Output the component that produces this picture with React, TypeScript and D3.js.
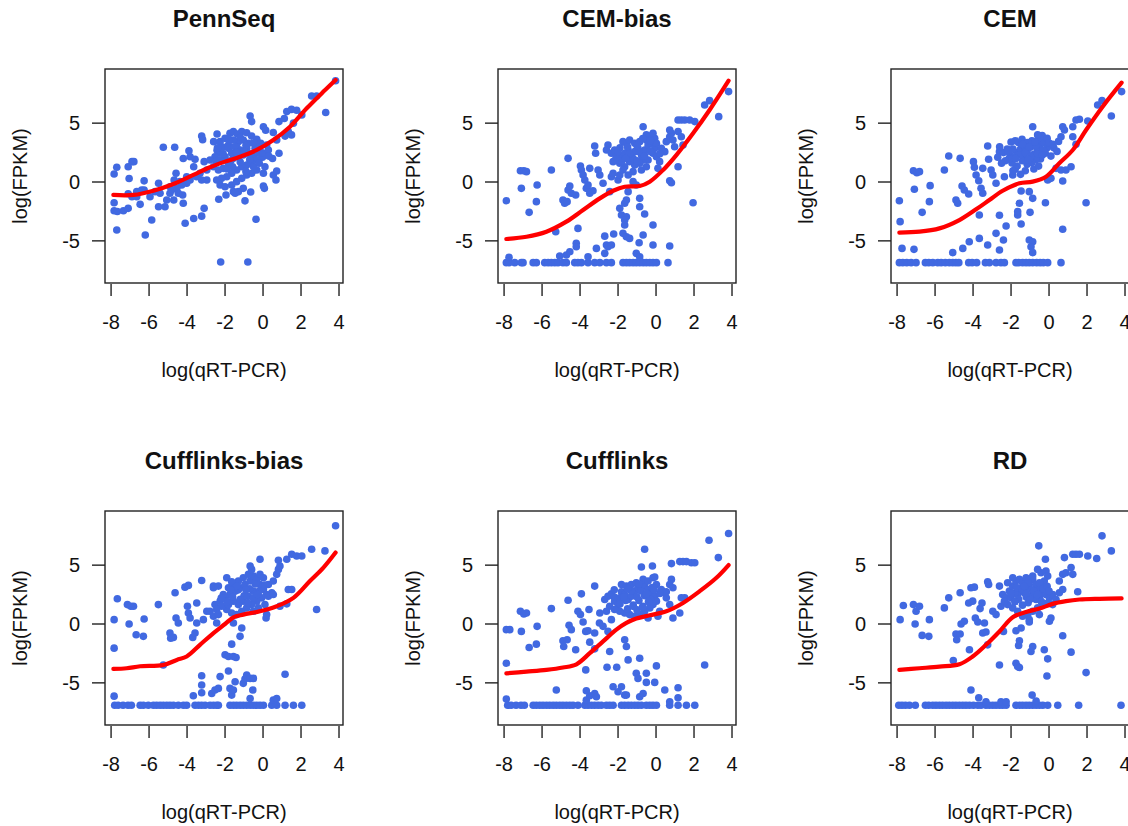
import React from 'react';
import * as d3 from 'd3';

// axis ticks shared by every panel
const xTicks = [-8, -6, -4, -2, 0, 2, 4];
const yTicks = [-5, 0, 5];
const xDomain = [-8.32, 4.21];
const yDomain = [-8.58, 9.6];

const titles = ['PennSeq', 'CEM-bias', 'CEM', 'Cufflinks-bias', 'Cufflinks', 'RD'];

// points: [log(qRT-PCR), log(FPKM)]
const pennSeqPts = [
  [-7.84,0.68],[-7.7,1.25],[-7.84,-1.76],[-7.84,-2.44],[-7.67,-2.5],[-7.7,-4.08],[-7.35,-2.44],[-7.1,-2.24],[-7.05,0.3],[-7.1,1.3],
  [-6.9,1.73],[-6.8,1.73],[-7.1,-1.0],[-6.9,-1.25],[-6.65,-1.25],[-6.47,-1.9],[-6.26,0.1],[-6.26,-0.68],[-6.2,-4.5],[-5.86,-3.23],
  [-5.5,-0.1],[-5.5,-2.1],[-5.25,2.95],[-5.16,-2.1],[-5.07,-1.53],[-4.9,-0.96],[-4.65,2.95],[-4.7,-1.53],[-4.58,0.74],[-4.68,0.17],
  [-4.2,2.0],[-3.9,2.66],[-3.84,2.15],[-3.58,1.93],[-4.23,-1.1],[-4.1,-3.5],[-4.2,-1.8],[-3.65,-3.1],[-3.23,-2.9],[-3.1,-2.24],
  [-3.65,1.3],[-3.23,3.9],[-3.18,3.6],[-3.5,0.45],[-3.1,1.73],[-2.96,0.17],[-2.6,3.43],[-2.42,4.08],[-2.42,2.7],[-2.33,-1.47],
  [-2.23,-6.8],[-1.95,-1.1],[-0.8,-6.8],[-0.95,-1.6],[-0.65,-0.85],[-0.37,-3.17],[0.02,-0.34],[0.07,-0.54],[0.1,1.3],[0.54,0.6],
  [0.72,0.93],[0.68,0.17],[0.84,2.44],[0.5,2.0],[0.54,4.2],[0.72,3.57],[0.84,5.13],[1.12,5.4],[1.25,5.98],[1.5,6.17],
  [1.77,6.1],[2.04,5.7],[1.16,3.9],[1.33,4.28],[1.5,4.0],[1.6,5.0],[2.56,7.3],[2.82,7.3],[3.3,5.9],[3.82,8.6],
  [-0.68,5.6],[-0.6,5.13],[0.02,4.7],[0.14,4.4],[-0.03,2.1],
  [-2.26,3.43],[-2.0,3.71],[-1.74,4.14],[-1.56,4.28],[-1.35,4.08],[-1.12,4.28],[-0.86,4.19],[-0.6,3.9],[-0.33,3.63],[-0.12,3.29],
  [-0.16,2.72],[-0.42,2.86],[-0.77,3.29],[-1.04,3.57],[-1.3,3.43],[-1.56,3.57],[-1.82,3.14],[-2.09,2.95],[-2.3,2.44],[-2.53,2.15],
  [-2.44,1.73],[-2.61,1.3],[-2.35,1.02],[-2.09,1.16],[-1.82,1.59],[-1.56,2.01],[-1.3,2.15],[-1.04,2.29],[-0.77,2.44],[-0.51,2.15],
  [-0.25,2.44],[0.02,2.44],[0.28,2.72],[0.19,3.14],[-0.33,1.87],[-0.6,1.59],[-0.86,1.44],[-1.12,1.3],[-1.39,1.02],[-1.65,0.74],
  [-1.91,0.45],[-2.18,0.31],[-2.44,0.17],[-2.26,-0.25],[-2.0,-0.4],[-1.65,-0.25],[-1.39,0.03],[-1.12,0.31],[-0.86,0.6],[-0.6,0.74],
  [-0.33,1.02],[0.02,0.74],[-1.04,-0.54],[-1.3,-0.82],[-1.56,-0.82],[-1.47,-0.96],[-1.82,2.86],[-1.21,2.72],[-0.86,2.86],[-1.39,3.0],
  [-1.65,2.44],[-2.0,2.15],[-2.26,1.87],[-2.79,1.87],[-2.96,1.02],[-3.32,0.74],[-3.23,0.17],[-3.84,0.17],[-4.02,-0.11],[-4.28,-0.25],
  [-4.54,-0.54],[-4.81,-0.68],[-4.9,-0.4],[-4.37,0.03],[-4.02,0.45],[-4.46,-0.96],[-5.42,-0.96],[-5.68,-0.82],[-5.95,-1.25],[-6.65,-0.82],
  [-6.39,-0.68],
  [-1.8,3.6],[-1.5,3.0],[-1.2,3.8],[-0.9,3.1],[-0.5,3.3],[-0.2,3.0],[-1.7,1.8],[-1.4,2.5],[-1.0,2.6],[-0.7,1.9],
  [-0.4,2.6],[-2.1,2.4],[-1.9,1.1],[-1.2,1.7],[-0.9,0.9],[-0.5,1.3],[-2.4,2.9],[-1.6,1.3],[-0.2,1.6],[0.3,2.2],
];

const cemBiasPts = [
  [-7.88,-6.85],[-7.74,-6.85],[-7.44,-6.85],[-7.09,-6.85],[-7.0,-6.85],[-6.47,-6.85],[-6.3,-6.85],[-5.86,-6.85],[-5.68,-6.85],[-5.51,-6.85],
  [-5.33,-6.85],[-5.16,-6.85],[-4.9,-6.85],[-4.72,-6.85],[-4.28,-6.85],[-4.11,-6.85],[-3.93,-6.85],[-3.58,-6.85],[-3.23,-6.85],[-2.96,-6.85],
  [-2.61,-6.85],[-2.35,-6.85],[-1.74,-6.85],[-1.56,-6.85],[-1.39,-6.85],[-1.21,-6.85],[-1.04,-6.85],[-0.86,-6.85],[-0.68,-6.85],[-0.51,-6.85],
  [-0.33,-6.85],[-0.16,-6.85],[0.02,-6.85],[0.63,-6.85],
  [-7.74,-6.4],[-5.07,-6.29],[-4.72,-6.2],[-4.54,-5.92],[-4.2,-5.2],[-4.2,-5.5],[-3.58,-6.35],[-3.14,-5.64],[-2.7,-6.06],[-2.61,-5.35],
  [-2.7,-4.6],[-2.53,-5.5],[-2.35,-5.35],[-2.23,-4.42],[-1.74,-4.36],[-1.56,-4.65],[-1.39,-4.79],[-1.65,-3.65],[-1.04,-6.06],[-0.86,-6.35],
  [-0.89,-5.16],[-0.68,-4.5],[-0.16,-3.65],[-0.16,-5.35],[0.72,-5.44],[1.95,-1.76],
  [-1.91,-2.24],[-1.82,-2.8],[-1.65,-1.81],[-1.56,-1.53],[-1.56,-2.95],[-1.47,-0.82],[-1.65,-3.23],[-0.86,-1.39],[-0.86,-2.1],[-0.6,-2.72],
  [-1.21,0.03],[-1.04,-0.25],
  [-7.88,-1.59],[-7.09,-0.54],[-7.14,0.96],[-6.96,0.96],[-6.82,0.88],[-6.68,-2.58],[-6.3,-1.67],[-6.26,-0.25],[-5.51,1.02],[-5.28,-4.22],
  [-4.9,-1.53],[-4.81,-1.81],[-4.68,-1.67],[-4.63,2.01],[-4.63,-0.68],[-4.54,-0.34],[-4.46,-0.96],[-4.23,-1.1],[-4.11,-3.94],[-3.98,1.36],
  [-3.93,1.02],[-3.84,0.6],[-3.67,-0.54],[-3.75,0.17],[-3.58,-0.25],[-3.49,1.16],[-3.49,-0.96],[-3.32,-0.74],[-3.23,3.06],[-3.18,2.44],
  [-3.05,1.02],[-2.96,0.6],[-2.79,-0.11],[-2.53,3.14],[-2.61,2.72],[-2.44,-0.82],[-2.35,0.45],[-2.26,0.74],[-2.0,0.17],[-1.91,0.6],
  [-2.35,2.44],[-2.18,2.72],[-2.0,2.29],[-1.82,2.01],[-1.65,2.44],[-1.47,2.72],[-1.3,2.15],[-1.12,2.58],[-0.95,2.86],[-0.77,2.29],
  [-0.6,2.72],[-0.42,3.14],[-0.25,3.29],[-0.07,2.86],[-0.16,2.44],[-0.42,1.87],[-0.68,1.87],[-0.86,1.59],[-1.12,1.44],[-1.39,1.73],
  [-1.65,1.3],[-1.91,1.59],[-2.09,1.87],[-2.26,1.73],[-1.56,3.29],[-1.74,3.43],[-1.39,3.57],[-1.12,3.29],[-0.86,3.43],[-0.51,3.71],
  [-0.33,3.91],[-0.07,3.71],[0.02,3.29],[0.28,2.86],[0.46,2.58],[0.54,3.43],[0.72,3.85],[0.89,3.57],[0.81,4.14],[0.72,4.42],
  [0.98,3.0],[1.16,1.3],[0.72,0.11],[0.81,-0.06],[0.19,1.73],[0.1,1.16],[0.02,2.15],[-1.21,0.88],[-1.47,0.6],[-1.74,1.02],
  [-0.77,1.02],[-0.51,1.3],[-0.68,4.7],[-0.51,4.0],[-0.51,3.57],[-0.16,4.14],
  [1.16,5.27],[1.33,5.27],[1.51,5.27],[1.77,5.27],[2.04,5.13],[1.16,4.28],[1.33,3.85],[1.42,3.14],[2.56,6.54],[2.82,6.91],
  [3.3,5.55],[3.82,7.68],
  [-1.9,2.9],[-1.5,3.0],[-1.2,2.0],[-0.9,2.6],[-0.6,2.2],[-0.3,2.6],[-1.8,1.8],[-1.4,2.4],[-1.0,3.1],[-0.7,3.7],
  [-2.1,2.1],[-1.6,2.0],[-0.3,3.5],[0.2,2.4],[-1.0,1.8],[-2.0,2.6],
];

const cemPts = [
  [-7.88,-6.85],[-7.7,-6.85],[-7.49,-6.85],[-7.26,-6.85],[-7.0,-6.85],[-6.51,-6.85],[-6.33,-6.85],[-6.12,-6.85],[-5.86,-6.85],[-5.68,-6.85],
  [-5.46,-6.85],[-5.25,-6.85],[-5.07,-6.85],[-4.9,-6.85],[-4.75,-6.85],[-4.23,-6.85],[-4.05,-6.85],[-3.81,-6.85],[-3.35,-6.85],[-3.14,-6.85],
  [-2.79,-6.85],[-2.53,-6.85],[-2.35,-6.85],[-1.74,-6.85],[-1.6,-6.85],[-1.39,-6.85],[-1.21,-6.85],[-1.04,-6.85],[-0.86,-6.85],[-0.65,-6.85],
  [-0.47,-6.85],[-0.3,-6.85],[-0.07,-6.85],[0.63,-6.85],
  [-7.74,-5.64],[-7.11,-5.72],[-5.07,-6.0],[-4.54,-5.64],[-4.2,-5.07],[-3.67,-4.79],[-3.23,-5.35],[-2.79,-4.36],[-2.61,-5.78],[-2.4,-4.93],
  [-2.26,-3.74],[-1.65,-2.8],[-1.65,-2.52],[-1.56,-1.81],[-1.47,-3.57],[-1.04,-4.93],[-0.86,-5.07],[-0.95,-5.5],[-1.0,-2.58],[-0.86,-6.0],
  [0.72,-4.02],[-2.61,-2.83],[-3.67,-2.8],[-7.84,-3.37],[-7.88,-1.59],[1.95,-1.76],[-0.19,-1.76],[-1.47,-0.76],[-0.86,-1.39],[-1.04,-0.82],
  [-7.14,0.96],[-6.96,0.79],[-6.82,0.88],[-7.09,-0.62],[-6.68,-2.58],[-6.3,-1.67],[-6.26,-0.31],[-5.51,1.02],[-5.28,2.21],[-4.68,2.01],
  [-4.9,-1.53],[-4.81,-1.81],[-4.58,-0.34],[-4.46,-0.68],[-4.23,-1.02],[-3.98,1.73],[-3.93,1.25],[-3.84,0.6],[-3.7,0.11],[-3.58,-0.54],
  [-3.49,-0.96],[-3.49,1.16],[-3.23,3.06],[-3.18,1.93],[-3.05,1.02],[-2.96,0.6],[-2.79,-0.11],[-2.61,2.58],[-2.35,0.45],[-1.91,0.6],
  [-0.07,0.17],[0.72,0.08],[0.63,1.02],[0.89,1.02],[1.16,1.3],
  [-2.4,2.5],[-2.2,2.8],[-2.05,2.3],[-1.85,2.05],[-1.7,2.5],[-1.5,2.8],[-1.32,2.2],[-1.15,2.65],[-0.98,2.95],[-0.8,2.35],
  [-0.62,2.8],[-0.45,3.2],[-0.28,3.35],[-0.1,2.9],[-0.2,2.45],[-0.45,1.95],[-0.7,1.9],[-0.9,1.65],[-1.15,1.5],[-1.4,1.8],
  [-1.68,1.35],[-1.95,1.62],[-2.12,1.95],[-2.3,1.8],[-1.6,3.35],[-1.78,3.5],[-1.42,3.62],[-1.15,3.35],[-0.9,3.5],[-0.55,3.75],
  [-0.36,3.95],[-0.1,3.72],[0.0,3.3],[0.25,2.9],[0.42,2.6],[0.5,3.45],[-1.25,0.95],[-1.5,0.65],[-1.78,1.1],[-0.8,1.1],
  [-0.55,1.35],[-2.6,3.0],[-2.5,1.6],[-2.7,2.1],[0.1,2.2],[-1.0,2.0],[-1.3,3.0],[-0.7,3.1],[-2.0,3.4],[-1.9,0.95],
  [-0.86,4.7],[-0.6,4.0],[0.72,4.7],[0.81,4.42],[0.63,3.85],[1.25,4.7],[1.42,5.27],[1.6,5.33],[2.04,5.18],[1.25,3.85],
  [1.42,3.2],[2.56,6.54],[2.79,6.91],[3.28,5.61],[3.82,7.68],[0.1,0.31],[0.37,1.16],
  [-1.9,2.8],[-1.55,2.3],[-1.25,2.5],[-0.95,2.2],[-0.6,2.4],[-0.3,2.7],[-1.75,2.0],[-1.4,3.2],[-1.05,3.0],[-0.75,3.4],
  [-2.15,2.6],[-0.35,2.3],[0.2,3.2],[-1.1,1.9],
];

const cuffBiasPts = [
  [-7.81,-6.9],[-7.63,-6.9],[-7.37,-6.9],[-7.11,-6.9],[-6.93,-6.9],[-6.47,-6.9],[-6.3,-6.9],[-6.04,-6.9],[-5.77,-6.9],[-5.6,-6.9],
  [-5.42,-6.9],[-5.25,-6.9],[-5.07,-6.9],[-4.9,-6.9],[-4.72,-6.9],[-4.46,-6.9],[-4.19,-6.9],[-4.02,-6.9],[-3.58,-6.9],[-3.4,-6.9],
  [-3.23,-6.9],[-3.05,-6.9],[-2.79,-6.9],[-2.61,-6.9],[-2.44,-6.9],[-2.35,-6.9],[-1.74,-6.9],[-1.56,-6.9],[-1.39,-6.9],[-1.21,-6.9],
  [-1.04,-6.9],[-0.86,-6.9],[-0.68,-6.9],[-0.51,-6.9],[-0.33,-6.9],[-0.16,-6.9],[0.02,-6.9],[0.46,-6.9],[0.72,-6.9],[1.16,-6.9],
  [1.6,-6.9],[2.04,-6.9],
  [-7.84,-6.13],[-3.67,-6.1],[-3.23,-5.84],[-3.23,-5.18],[-3.23,-4.39],[-2.7,-5.9],[-2.53,-5.61],[-2.35,-5.47],[-2.26,-4.47],[-1.82,-3.99],
  [-1.74,-5.47],[-1.65,-6.04],[-1.56,-5.61],[-1.47,-4.9],[-1.04,-5.04],[-0.95,-4.67],[-0.86,-4.33],[-0.68,-4.62],[-0.51,-4.62],[-0.54,-5.61],
  [-0.68,-6.33],[0.54,-6.47],[0.72,-6.33],[1.16,-4.27],
  [-2.0,-2.62],[-1.82,-2.76],[-1.56,-2.76],[-1.42,-2.85],[-1.65,-1.71],[-1.21,-1.05],[-1.12,-0.34],[-1.56,0.09],[-7.84,-2.05],[-7.84,0.37],
  [-7.67,2.14],[-7.14,1.65],[-6.96,1.51],[-6.82,1.51],[-7.05,0.0],[-6.68,-0.91],[-6.3,-1.05],[-6.26,0.43],[-5.51,1.65],[-5.25,-3.48],
  [-4.9,-0.77],[-4.86,-1.2],[-4.72,-1.14],[-4.63,2.65],[-4.58,0.51],[-4.46,0.09],[-4.11,3.13],[-3.93,3.28],[-3.98,1.51],[-3.93,0.94],
  [-3.84,0.51],[-3.7,-1.14],[-3.58,-0.77],[-3.49,1.79],[-3.23,3.7],[-3.49,0.09],[-3.14,0.37],[-2.96,1.08],[-2.44,0.09],[-2.61,3.22],
  [1.25,1.71],[2.82,1.23],[0.16,0.51],[0.19,0.8],[0.89,1.51],
  [-2.79,1.08],[-2.53,1.65],[-2.26,1.94],[-2.0,2.22],[-1.74,2.51],[-1.47,2.79],[-1.21,3.08],[-0.95,3.36],[-0.68,3.65],[-0.51,4.07],
  [-0.33,3.79],[-0.16,3.36],[0.02,2.93],[0.19,2.51],[-0.07,2.22],[-0.33,1.94],[-0.6,1.65],[-0.86,1.37],[-1.12,1.08],[-1.39,0.8],
  [-1.65,0.94],[-1.91,1.23],[-2.18,1.51],[-2.44,1.23],[-2.61,0.66],[-2.35,0.8],[-2.09,2.51],[-1.82,3.08],[-1.56,3.36],[-1.3,3.65],
  [-1.04,3.93],[-0.77,4.22],[-0.6,4.64],[-0.68,4.93],[-0.16,4.22],[0.02,3.93],[0.28,3.36],[0.46,2.65],[0.54,3.65],[0.72,4.22],
  [0.81,4.64],[0.89,4.93],[0.1,1.65],[-0.25,1.37],[-0.51,1.08],[-1.3,1.65],[-1.04,1.94],[-0.77,2.36],[-0.51,2.79],[-1.56,1.94],
  [-1.82,1.65],[-2.61,3.08],[-2.35,3.22],[-1.91,3.93],[-1.65,3.59],[-0.16,5.5],[0.81,5.41],[1.25,5.5],[1.51,5.93],[1.77,5.78],
  [2.04,5.78],[1.33,2.93],[1.51,2.93],[2.56,6.35],[3.26,6.21],[3.82,8.35],[0.28,2.36],[0.54,2.51],
  [-1.6,2.3],[-1.3,2.9],[-1.0,2.4],[-0.7,3.0],[-0.4,3.4],[-0.2,2.8],[-1.9,1.9],[-1.2,2.1],[-0.9,2.9],[-0.5,2.2],
  [-2.2,2.2],[-1.4,3.2],[0.1,3.3],[-0.8,1.8],[-1.7,2.9],[-0.3,2.5],
];

const cuffPts = [
  [-7.81,-6.9],[-7.63,-6.9],[-7.37,-6.9],[-7.11,-6.9],[-6.93,-6.9],[-6.47,-6.9],[-6.3,-6.9],[-6.12,-6.9],[-5.95,-6.9],[-5.77,-6.9],
  [-5.6,-6.9],[-5.42,-6.9],[-5.25,-6.9],[-5.07,-6.9],[-4.9,-6.9],[-4.72,-6.9],[-4.54,-6.9],[-4.37,-6.9],[-4.11,-6.9],[-3.75,-6.9],
  [-3.58,-6.9],[-3.4,-6.9],[-3.23,-6.9],[-3.05,-6.9],[-2.88,-6.9],[-2.61,-6.9],[-2.44,-6.9],[-2.26,-6.9],[-1.82,-6.9],[-1.65,-6.9],
  [-1.47,-6.9],[-1.3,-6.9],[-1.12,-6.9],[-0.95,-6.9],[-0.77,-6.9],[-0.51,-6.9],[-0.33,-6.9],[-0.16,-6.9],[0.02,-6.9],[0.72,-6.9],
  [1.16,-6.9],[1.6,-6.9],[2.04,-6.9],
  [-7.88,-6.38],[-3.67,-6.47],[-3.49,-6.1],[-3.23,-5.9],[-3.14,-6.18],[-3.67,-5.67],[-5.25,-5.61],[-2.26,-5.33],[-2.0,-5.76],[-1.82,-5.33],
  [-1.65,-6.04],[-1.56,-6.04],[-0.86,-6.18],[-0.68,-5.9],[-1.04,-4.19],[-0.95,-4.62],[-0.51,-4.19],[-0.51,-4.96],[-0.07,-4.96],[0.46,-5.61],
  [0.72,-6.61],[1.16,-5.41],[1.16,-6.27],[0.02,-3.56],[-0.86,-2.91],[-1.47,-3.05],[-2.07,-3.68],[-2.58,-3.68],[-3.7,-3.9],[-2.44,-2.34],
  [-1.56,-1.91],[-1.65,-1.34],[2.56,-3.48],[-7.88,-3.33],
  [-7.88,-0.48],[-7.7,-0.48],[-7.09,-0.63],[-7.14,1.08],[-6.96,0.85],[-6.82,0.94],[-6.68,-1.99],[-6.3,-1.71],[-6.26,-0.2],[-5.51,1.31],
  [-4.9,-1.42],[-4.86,-1.91],[-4.68,-1.34],[-4.63,2.02],[-4.58,-0.11],[-4.46,-0.48],[-4.23,-2.19],[-4.11,1.08],[-3.98,0.8],[-3.84,0.17],
  [-3.7,-0.63],[-3.58,-0.57],[-3.53,1.23],[-3.49,-1.54],[-3.93,2.56],[-3.23,3.22],[-3.23,-2.11],[-2.96,0.94],[-2.98,0.09],[-2.79,-0.2],
  [-2.53,-0.63],[-2.35,0.37],
  [-2.7,2.08],[-2.53,2.36],[-2.35,2.56],[-2.18,1.94],[-2.0,1.65],[-1.91,2.22],[-1.82,2.74],[-1.65,2.51],[-1.47,2.08],[-1.3,2.36],
  [-1.12,2.79],[-0.95,3.08],[-0.77,3.36],[-0.6,3.22],[-0.42,2.93],[-0.25,2.65],[-0.07,2.36],[0.02,1.94],[-0.16,1.65],[-0.33,1.37],
  [-0.6,1.08],[-0.86,0.8],[-1.12,0.66],[-1.39,0.8],[-1.65,0.94],[-1.91,1.08],[-2.18,1.23],[-2.44,1.51],[-2.61,1.08],[-1.82,3.36],
  [-1.56,3.22],[-1.3,3.36],[-1.04,3.5],[-0.68,3.79],[-0.42,3.65],[-0.16,3.93],[0.02,3.36],[0.28,2.93],[0.46,2.65],[0.54,2.22],
  [0.72,1.65],[0.89,3.08],[0.81,3.79],[0.72,3.36],[0.19,1.08],[0.1,0.66],[-0.42,0.51],[-0.77,4.84],[-0.6,6.35],[-0.19,4.93],
  [-0.07,3.99],[0.81,5.13],[1.25,5.3],[1.42,5.3],[1.6,5.3],[1.86,5.21],[2.04,5.21],[1.25,0.94],[0.89,0.51],[1.33,2.22],
  [1.51,2.22],[2.79,7.12],[3.28,5.64],[3.82,7.69],[-3.23,-0.77],[0.54,2.74],
  [-1.2,1.6],[-0.9,2.0],[-0.6,2.4],[-1.5,1.3],[-0.3,2.1],[-2.2,2.9],[-1.0,1.2],[-0.7,1.5],
  [-1.6,2.0],[-1.3,2.8],[-1.0,2.3],[-0.8,2.8],[-0.5,2.6],[-0.2,3.1],[-1.9,1.7],[-1.2,1.5],[-0.9,3.4],[-0.4,1.9],
  [-2.2,2.3],[-1.5,3.0],[0.2,2.6],[-0.7,1.4],[-1.7,2.3],[-0.1,2.9],
];

const rdPts = [
  [-7.91,-6.9],[-7.74,-6.9],[-7.56,-6.9],[-7.35,-6.9],[-7.04,-6.9],[-6.51,-6.9],[-6.33,-6.9],[-6.12,-6.9],[-5.95,-6.9],[-5.77,-6.9],
  [-5.6,-6.9],[-5.42,-6.9],[-5.25,-6.9],[-5.07,-6.9],[-4.9,-6.9],[-4.72,-6.9],[-4.54,-6.9],[-4.37,-6.9],[-4.19,-6.9],[-3.98,-6.9],
  [-3.75,-6.9],[-3.58,-6.9],[-3.32,-6.9],[-3.14,-6.9],[-2.96,-6.9],[-2.79,-6.9],[-2.61,-6.9],[-2.44,-6.9],[-2.26,-6.9],[-1.74,-6.9],
  [-1.56,-6.9],[-1.39,-6.9],[-1.21,-6.9],[-1.04,-6.9],[-0.86,-6.9],[-0.68,-6.9],[-0.51,-6.9],[-0.33,-6.9],[-0.07,-6.9],[0.46,-6.9],
  [1.56,-6.9],[3.79,-6.9],
  [-4.11,-5.61],[-3.7,-6.27],[-3.32,-6.61],[-2.53,-6.61],[-2.26,-6.61],[-0.89,-6.04],[-0.68,-6.55],[-5.04,-3.11],[-2.61,-3.48],[-1.74,-3.33],
  [-1.65,-3.62],[-1.56,-3.7],[-0.11,-4.42],[1.95,-4.13],[-0.07,-2.96],[-0.25,-2.19],[1.16,-2.39],[0.72,-1.0],[-0.95,-2.34],[-0.86,-1.91],
  [-1.6,-1.82],[-1.56,-1.42],[-4.19,-2.19],[-2.4,-0.63],[-1.74,-0.57],[-1.47,-0.34],[-1.04,0.17],[0.02,0.23],[0.1,0.51],
  [-7.84,0.37],[-7.67,1.57],[-7.14,1.65],[-7.0,1.08],[-6.82,1.51],[-7.05,0.0],[-6.68,-0.97],[-6.33,-1.05],[-6.3,0.37],[-5.51,1.37],
  [-5.28,2.22],[-4.68,2.65],[-4.9,-0.85],[-4.86,-1.34],[-4.68,-0.85],[-4.63,0.0],[-4.46,0.23],[-4.23,1.79],[-4.11,3.08],[-3.93,3.13],
  [-4.02,1.94],[-3.88,0.51],[-3.75,0.17],[-3.63,1.31],[-3.53,1.79],[-3.49,-0.77],[-3.32,-0.68],[-3.4,0.09],[-3.23,3.59],[-3.18,3.36],
  [-3.23,-1.77],[-2.96,1.08],[-2.79,0.8],[-2.53,1.51],[-2.61,3.22],
  [-2.44,2.51],[-2.26,2.22],[-2.09,2.79],[-1.91,3.22],[-1.74,3.65],[-1.56,3.79],[-1.39,3.5],[-1.21,3.08],[-1.04,3.36],[-0.86,3.79],
  [-0.68,3.36],[-0.51,2.93],[-0.33,2.65],[-0.16,2.51],[0.02,2.22],[-0.07,1.79],[-0.33,1.65],[-0.6,1.37],[-0.86,1.08],[-1.12,0.8],
  [-1.39,0.66],[-1.65,1.08],[-1.91,1.37],[-2.18,1.65],[-2.35,1.94],[-2.0,2.22],[-1.65,2.51],[-1.3,2.65],[-0.95,2.36],[-0.68,2.08],
  [-0.42,4.36],[-0.16,4.5],[-0.07,4.07],[-0.25,3.65],[-0.6,4.64],[-2.18,3.5],[-1.91,3.93],[-1.21,3.93],[-0.86,4.07],[0.19,2.51],
  [0.37,2.08],[0.54,2.65],[0.72,2.93],[0.54,3.65],[0.72,4.22],[0.89,4.36],[1.16,4.79],[1.25,4.22],[1.51,2.74],[-0.54,6.64],
  [-0.19,5.5],[0.81,5.64],[1.25,5.93],[1.42,5.93],[1.6,5.93],[2.04,5.78],[2.51,5.56],[2.79,7.49],[3.28,6.21],[0.19,1.65],
  [-0.51,0.8],[-1.04,0.37],
  [-1.5,3.0],[-1.2,2.3],[-0.9,2.9],[-1.8,2.6],[-0.4,3.3],[-1.1,1.8],[-1.4,1.6],[-0.5,2.3],
  [-1.7,3.1],[-1.4,2.9],[-1.1,3.5],[-0.8,2.8],[-0.5,3.5],[-0.3,3.0],[-2.0,2.6],[-1.6,2.1],[-1.0,2.1],[-0.6,2.5],
  [-1.3,3.2],[-0.1,3.2],[-1.8,1.9],[-0.4,1.9],[-1.2,2.6],[0.0,2.8],
];

// lowess fits
const pennSeqFit = [[-7.88,-1.1],[-6.82,-1.1],[-5.77,-0.74],[-4.72,-0.17],[-3.67,0.6],[-2.79,1.25],[-2.0,1.73],[-1.21,2.15],[-0.33,2.72],[0.54,3.57],[1.42,4.7],[2.3,6.26],[3.18,7.68],[3.82,8.67]];
const cemBiasFit = [[-7.88,-4.84],[-6.82,-4.65],[-5.77,-4.22],[-4.72,-3.37],[-3.84,-2.38],[-2.96,-1.39],[-2.26,-0.74],[-1.65,-0.4],[-0.86,-0.34],[-0.33,0.03],[0.37,1.02],[1.07,2.29],[1.95,4.14],[2.82,6.12],[3.82,8.61]];
const cemFit = [[-7.88,-4.3],[-6.82,-4.22],[-5.77,-3.94],[-4.72,-3.23],[-3.84,-2.32],[-3.14,-1.53],[-2.44,-0.74],[-1.56,-0.11],[-0.86,0.03],[-0.16,0.45],[0.54,1.59],[1.25,2.72],[1.95,4.42],[2.82,6.4],[3.82,8.44]];
const cuffBiasFit = [[-7.88,-3.82],[-7.18,-3.76],[-6.47,-3.59],[-5.25,-3.48],[-4.54,-3.05],[-4.02,-2.76],[-3.32,-1.77],[-2.61,-0.77],[-2.0,0.0],[-1.56,0.57],[-1.04,0.8],[-0.16,1.08],[0.72,1.51],[1.6,2.22],[2.47,3.65],[3.18,4.79],[3.82,6.07]];
const cuffFit = [[-7.88,-4.19],[-6.82,-4.05],[-5.77,-3.9],[-4.9,-3.7],[-4.19,-3.42],[-3.49,-2.48],[-2.79,-1.48],[-2.09,-0.48],[-1.56,0.09],[-1.04,0.46],[-0.33,0.74],[0.54,1.08],[1.42,1.79],[2.3,2.79],[3.18,3.93],[3.82,5.01]];
const rdFit = [[-7.88,-3.9],[-6.82,-3.76],[-5.77,-3.62],[-4.72,-3.42],[-4.02,-2.76],[-3.32,-1.77],[-2.61,-0.63],[-1.91,0.57],[-1.21,1.03],[-0.51,1.31],[0.19,1.71],[0.89,1.94],[1.6,2.08],[2.65,2.14],[3.82,2.17]];

const allPoints = [pennSeqPts, cemBiasPts, cemPts, cuffBiasPts, cuffPts, rdPts];
const allFits = [pennSeqFit, cemBiasFit, cemFit, cuffBiasFit, cuffFit, rdFit];

const FONT = '"Liberation Sans", Arial, sans-serif';
const colLeft = [105, 498, 891];
const rowTop = [69, 511];
const boxW = 238;
const boxH = 214;

const Panel = ({ title, points, fit, left, top }) => {
  const x = d3.scaleLinear().domain(xDomain).range([left, left + boxW]);
  const y = d3.scaleLinear().domain(yDomain).range([top + boxH, top]);
  const line = d3.line().x((d) => x(d[0])).y((d) => y(d[1])).curve(d3.curveCatmullRom);
  const cx = left + boxW / 2;

  return (
    <g fontFamily={FONT} fill="#111">
      <text x={cx} y={top - 42} textAnchor="middle" fontSize={24} fontWeight="bold">{title}</text>
      {points.map((d, i) => (
        <circle key={i} cx={x(d[0])} cy={y(d[1])} r={3.8} fill="#4169E1" />
      ))}
      <path d={line(fit)} fill="none" stroke="#FF0000" strokeWidth={4.2} strokeLinecap="round" />
      <rect x={left} y={top} width={boxW} height={boxH} fill="none" stroke="#222" strokeWidth={1.4} />
      {xTicks.map((t) => (
        <g key={t}>
          <line x1={x(t)} x2={x(t)} y1={top + boxH + 1} y2={top + boxH + 13} stroke="#222" strokeWidth={1.4} />
          <text x={x(t)} y={top + boxH + 46} textAnchor="middle" fontSize={20}>{t}</text>
        </g>
      ))}
      {yTicks.map((t) => (
        <g key={t}>
          <line x1={left - 13} x2={left} y1={y(t)} y2={y(t)} stroke="#222" strokeWidth={1.4} />
          <text x={left - 25} y={y(t) + 7} textAnchor="end" fontSize={20}>{t}</text>
        </g>
      ))}
      <text x={cx} y={top + boxH + 94} textAnchor="middle" fontSize={20}>log(qRT-PCR)</text>
      <text transform={`translate(${left - 78},${top + boxH / 2}) rotate(-90)`} textAnchor="middle" fontSize={20}>log(FPKM)</text>
    </g>
  );
};

export default function App() {
  return (
    <svg width={1128} height={826} style={{ position: 'absolute', left: 0, top: 0, background: '#fff' }}>
      <rect width={1128} height={826} fill="#fff" />
      {titles.map((t, i) => (
        <Panel
          key={t}
          title={t}
          points={allPoints[i]}
          fit={allFits[i]}
          left={colLeft[i % 3]}
          top={rowTop[Math.floor(i / 3)]}
        />
      ))}
    </svg>
  );
}
